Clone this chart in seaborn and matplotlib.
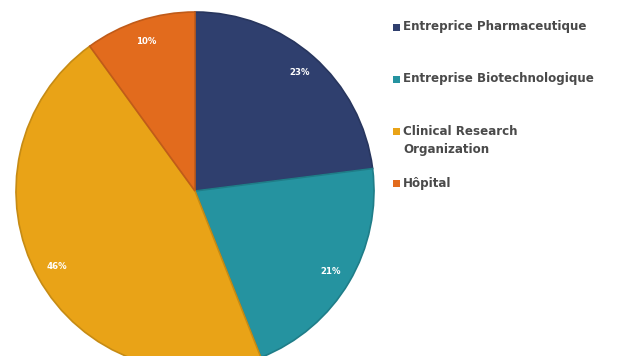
import matplotlib
matplotlib.use("Agg")
import matplotlib.pyplot as plt
import matplotlib.colors as mcolors
import seaborn as sns

categories = ["Entreprice Pharmaceutique", "Entreprise Biotechnologique",
              "Clinical Research\nOrganization", "Hôpital"]
shares = [23, 21, 46, 10]
colors = ["#2f3f6e", "#2593a0", "#e9a317", "#e26b1d"]

sns.set_theme(style="white")
plt.rcParams["font.family"] = ["DejaVu Sans"]

W, H = 617, 356
fig = plt.figure(figsize=(W / 100, H / 100), dpi=100)
fig.patch.set_facecolor("white")

# pie axes: centre ~ (195, 190) px, radius ~180 px, bottom runs off the canvas
cx, cy, r = 195, 191, 179
ax = fig.add_axes([(cx - r) / W, (H - cy - r) / H, 2 * r / W, 2 * r / H])
wedges, texts, autotexts = ax.pie(
    shares, colors=colors, startangle=90, counterclock=False,
    autopct=lambda p: f"{p:.0f}%", pctdistance=0.88,
    wedgeprops=dict(linewidth=1.2),
    textprops=dict(color="white", fontsize=6.2, fontweight="bold"),
)
for w, c in zip(wedges, colors):
    rgb = mcolors.to_rgb(c)
    w.set_edgecolor(tuple(v * 0.85 for v in rgb))
ax.set_xlim(-1, 1)
ax.set_ylim(-1, 1)
ax.set_aspect("equal")
ax.axis("off")

# legend entries, equally spaced markers on the right
x_mark, x_text = 396, 403
y0, dy = 27, 52.3
line_px = 12
for i, (lab, col) in enumerate(zip(categories, colors)):
    y = y0 + i * dy
    fig.patches.append(plt.Rectangle(((x_mark - 3.5) / W, (H - y - 3.5) / H), 7 / W, 7 / H,
                                     transform=fig.transFigure, facecolor=col,
                                     edgecolor="none"))
    fig.text(x_text / W, (H - y + line_px / 2 + 1) / H, lab, ha="left", va="top",
             fontsize=8.6, fontweight="bold", color="#4a4a4a", linespacing=1.5)

fig.savefig("out.png", dpi=100)
